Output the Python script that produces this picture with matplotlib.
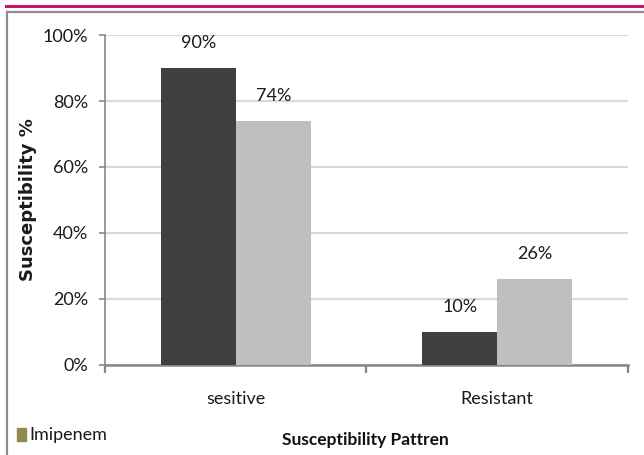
import numpy as np
import matplotlib.pyplot as plt
from matplotlib.lines import Line2D
from matplotlib.patches import Rectangle

# data
categories = ["sesitive", "Resistant"]
dark_vals = [90, 10]
light_vals = [74, 26]
yticks = [0, 20, 40, 60, 80, 100]
legend_label = "Imipenem"

DARK = "#404040"
LIGHT = "#bfbfbf"
AXIS = "#868686"
GRID = "#d9d9d9"
TXT = "#1a1a1a"

plt.rcParams["font.family"] = ["Lato", "DejaVu Sans"]

fig = plt.figure(figsize=(6.44, 4.55), dpi=100)
ax = fig.add_axes([0.163, 0.198, 0.812, 0.725])

x = np.arange(len(categories))
w = 0.287
b1 = ax.bar(x - w / 2, dark_vals, w, color=DARK, zorder=3)
b2 = ax.bar(x + w / 2, light_vals, w, color=LIGHT, zorder=3)

for bars, vals in ((b1, dark_vals), (b2, light_vals)):
    for rect, v in zip(bars, vals):
        ax.annotate(f"{v}%", (rect.get_x() + rect.get_width() / 2, v),
                    xytext=(0, 12), textcoords="offset points",
                    ha="center", va="bottom", fontsize=13, color=TXT)

ax.set_xlim(-0.5, len(categories) - 0.5)
ax.set_ylim(0, 100)
ax.set_yticks(yticks)
ax.set_yticklabels([f"{t}%" for t in yticks])
ax.yaxis.grid(True, color=GRID, linewidth=1.6, zorder=0)

# category boundaries carry the tick marks, labels sit between them
ax.set_xticks(np.arange(len(categories) + 1) - 0.5)
ax.set_xticklabels([])
ax.set_xticks(x, minor=True)
ax.set_xticklabels(categories, minor=True, fontsize=13, color=TXT)
ax.tick_params(axis="x", which="major", length=6, width=1.6, color=AXIS, direction="out")
ax.tick_params(axis="x", which="minor", length=0, pad=19)
ax.tick_params(axis="y", length=4, width=1.2, color=AXIS, direction="out",
               pad=8, labelsize=13, labelcolor=TXT)

for s in ("top", "right"):
    ax.spines[s].set_visible(False)
ax.spines["left"].set_color(AXIS)
ax.spines["left"].set_linewidth(1.2)
ax.spines["bottom"].set_color(AXIS)
ax.spines["bottom"].set_linewidth(1.8)

ax.set_ylabel("Susceptibility %", fontsize=13, fontweight="bold",
              family="DejaVu Sans", color=TXT, labelpad=4)
fig.text(0.568, 0.033, "Susceptibility Pattren", ha="center", va="center",
         fontsize=12.5, fontweight="bold", family="Lato", color="#111111")

# legend entry in the lower left corner
fig.patches.append(Rectangle((0.027, 0.03), 0.014, 0.029, transform=fig.transFigure,
                             color="#938953"))
fig.text(0.046, 0.043, legend_label, ha="left", va="center", fontsize=13,
         color=TXT)

# frame lines around the chart
fig.lines.append(Line2D([0.009, 1.0], [0.986, 0.986], transform=fig.transFigure,
                        color="#c8186e", linewidth=2.2))
fig.lines.append(Line2D([0.011, 1.0], [0.973, 0.973], transform=fig.transFigure,
                        color="#8c8c8c", linewidth=1.6))
fig.lines.append(Line2D([0.011, 0.011], [0.973, 0.0], transform=fig.transFigure,
                        color="#8c8c8c", linewidth=1.6))

fig.savefig("out.png", dpi=100)
